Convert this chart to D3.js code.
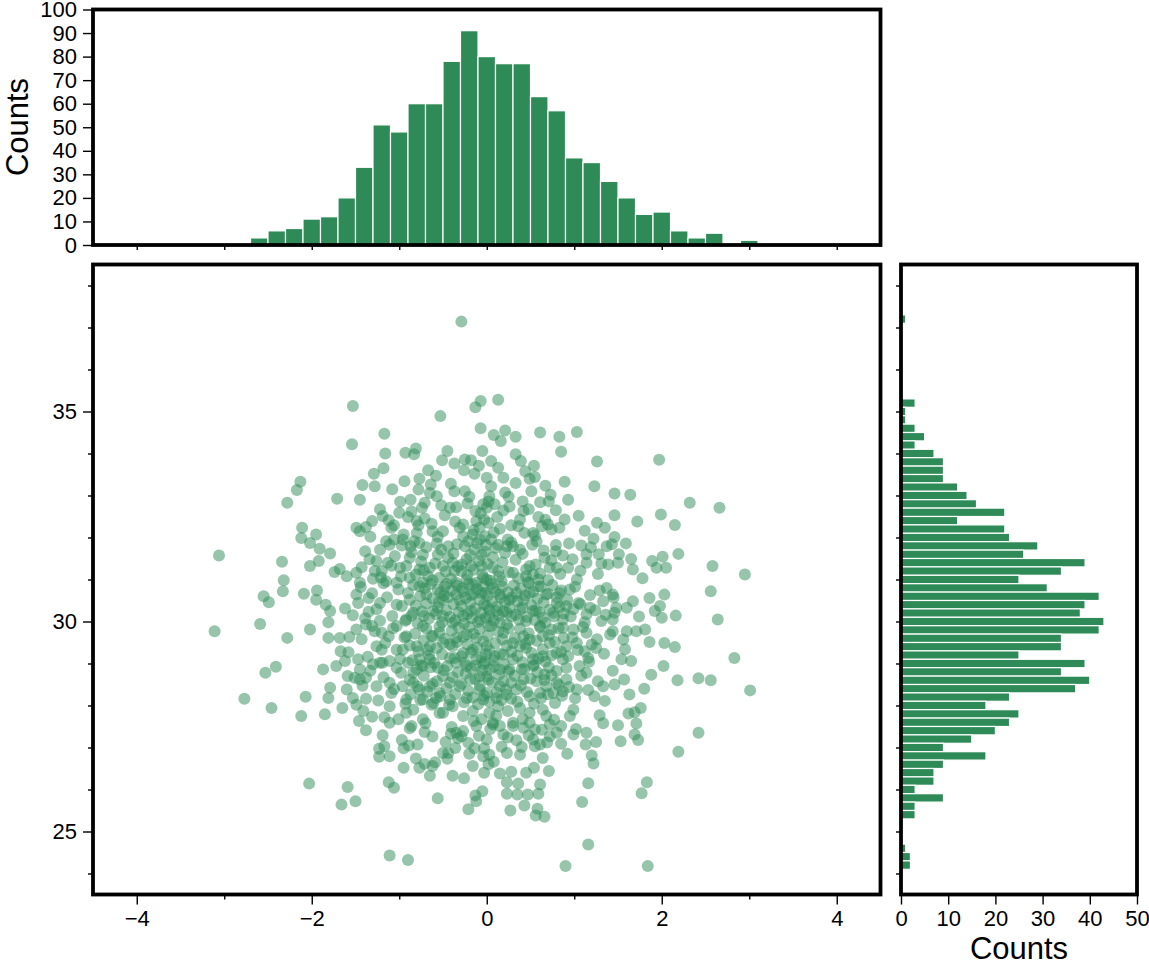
<!DOCTYPE html>
<html><head><meta charset="utf-8">
<script src="https://cdn.jsdelivr.net/npm/d3@7"></script>
<style>
body{margin:0;background:#fff}
svg{display:block}
text{font-family:"Liberation Sans",Arial,Helvetica,sans-serif;fill:#000}
</style>
</head><body>
<svg id="chart" width="1149" height="966"></svg>
<script>
// ---------- data ----------
const xBinCenters = [-2.6,-2.4,-2.2,-2.0,-1.8,-1.6,-1.4,-1.2,-1.0,-0.8,-0.6,-0.4,-0.2,0.0,0.2,0.4,0.6,0.8,1.0,1.2,1.4,1.6,1.8,2.0,2.2,2.4,2.6,2.8,3.0];
const xCounts = [3,6,7,11,12,20,33,51,48,60,60,78,91,80,77,77,63,57,37,35,27,20,13,14,6,3,5,0,2];

const yBinCenters = [37.2,35.2,35.0,34.8,34.6,34.4,34.2,34.0,33.8,33.6,33.4,33.2,33.0,32.8,32.6,32.4,32.2,32.0,31.8,31.6,31.4,31.2,
  31.0,30.8,30.6,30.4,30.2,30.0,29.8,29.6,29.4,29.2,29.0,28.8,28.6,28.4,28.2,28.0,27.8,27.6,27.4,27.2,27.0,26.8,26.6,26.4,26.2,26.0,25.8,25.6,25.4,
  24.6,24.4,24.2];
const yCounts = [1,3,1,1,3,5,3,7,9,9,9,12,14,16,22,12,22,23,29,26,39,34,
  25,31,42,39,38,43,42,34,34,25,39,34,40,37,23,18,25,23,20,15,9,18,9,7,7,3,9,3,3,
  1,2,2];

const topCountTicks = [0,10,20,30,40,50,60,70,80,90,100];
const rightCountTicks = [0,10,20,30,40,50];
const xMajorTicks = [-4,-2,0,2,4];
const xMinorTicks = [-3,-1,1,3];
const yMajorTicks = [25,30,35];
const yMinorTicks = [24,26,27,28,29,31,32,33,34,36,37,38];
const xAllTicks = [-4,-3,-2,-1,0,1,2,3,4];
const yAllTicks = [24,25,26,27,28,29,30,31,32,33,34,35,36,37,38];

// scatter points (outer and mid regions)
const scatterPoints = [
[-0.29,37.14],[-1.53,35.13],[-0.07,35.25],[-0.13,35.10],[-0.53,34.89],[-0.07,34.60],[-1.17,34.47],[-1.54,34.22],
[0.13,35.28],[0.08,34.44],[0.21,34.55],[0.16,34.30],[0.33,34.40],[0.61,34.50],[0.83,34.40],[1.03,34.51],
[-1.16,34.00],[-0.93,34.02],[-0.83,33.98],[-0.81,34.12],[-0.45,34.06],[-0.05,34.06],[-0.51,33.84],[-0.37,33.76],[-0.25,33.86],[-0.18,33.84],[-0.26,33.60],[-0.14,33.52],[-0.67,33.60],[-0.77,33.40],[-0.64,33.26],[-0.65,33.06],[-0.57,32.98],[-0.71,32.83],[-0.74,32.71],[-0.87,32.90],[-1.18,33.65],[-1.29,33.52],[-1.28,33.22],[-1.42,33.25],[-0.94,33.34],[-1.71,32.92],[-1.45,32.90],[-2.13,33.33],[-2.17,33.13],[-2.28,32.83],[-1.22,32.67],[-1.19,32.51],[-0.99,32.85],[-1.00,32.59],[-0.90,32.49],[-0.80,32.39],[-0.78,32.29],[-1.06,32.29],[-1.31,32.39],[-1.38,32.25],[-1.49,32.23],[-1.45,32.15],[-1.33,32.02],[-0.37,33.10],[-0.25,33.10],[-0.20,32.97],[-0.42,32.71],[-0.35,32.72],[-0.13,32.63],[-0.03,32.43],[-0.12,32.39],[-2.11,32.23],[-2.12,31.99],[-1.95,32.07],[-2.02,31.87],[-1.91,31.73],[-1.79,31.62],[-1.92,31.44],[-2.02,31.32],[-3.06,31.57],[-2.34,31.42],[-2.32,30.98],[-1.68,31.25],[-1.60,31.08],[-1.49,31.16],[-1.43,31.29],[-1.45,30.92],[-1.15,31.91],[-1.11,31.83],[-1.06,31.95],[-1.22,31.71],[-1.26,31.44],[-1.13,31.40],[-1.20,31.20],[-0.99,31.28],[-0.98,31.08],[-0.87,31.79],[-0.77,31.87],[-0.73,31.59],[-0.62,32.15],[-0.56,32.02],[-0.50,32.15],[-0.44,31.79],[-0.31,32.23],[-0.27,32.03],[-0.21,31.91],[-0.16,32.07],[-0.08,32.23],[-0.14,31.71],[-0.06,31.59],[-0.23,31.48],[-0.18,31.32],[-0.06,31.32],[-0.39,31.40],[-0.37,31.20],[-0.56,31.59],[-0.65,31.28],[-0.88,31.52],[-0.92,31.32],[-0.77,31.24],[-0.67,31.08],[-0.54,31.04],[-0.46,30.90],[-0.73,30.92],[-0.88,31.04],[-1.03,30.92],[-1.15,30.96],[-1.28,31.20],[-0.23,31.00],[-0.12,30.92],[-0.35,30.92],[-1.34,31.48],[-0.08,31.95],[-0.04,31.04],[-0.29,31.20],[-0.50,31.32],[-0.80,32.11],[-0.96,31.95],[-1.09,32.23],[-0.78,33.14],[-0.04,32.79],
[0.85,34.04],[1.26,33.81],[1.97,33.85],[0.33,33.98],[0.39,33.82],[0.54,33.71],[0.05,33.82],[0.13,33.66],[0.00,33.42],[0.19,33.42],[0.33,33.30],[0.49,33.40],[0.55,33.44],[0.89,33.33],[0.05,33.22],[0.51,33.10],[0.25,32.97],[0.02,32.86],[0.09,32.79],[0.41,32.86],[0.42,32.63],[0.19,32.64],[0.73,33.02],[0.71,32.86],[0.79,32.65],[0.93,32.90],[0.89,32.43],[0.59,32.49],[0.70,32.31],[0.74,32.19],[1.23,33.22],[1.46,33.05],[1.64,33.02],[2.32,32.83],[2.66,32.71],[1.99,32.55],[1.46,32.53],[2.15,32.30],[1.26,32.35],[1.35,32.23],[1.22,31.97],[1.46,32.01],[1.59,31.86],[1.37,31.79],[1.08,31.81],[1.14,31.60],[1.28,31.60],[1.31,31.38],[1.51,31.60],[1.65,31.49],[1.50,31.40],[1.39,31.36],[1.14,31.40],[0.94,31.86],[0.79,31.67],[0.80,31.28],[0.93,31.28],[0.72,31.28],[0.66,31.52],[0.57,31.91],[0.53,32.11],[0.43,32.11],[0.28,32.29],[0.15,32.21],[0.24,31.95],[0.30,31.79],[0.38,31.71],[0.23,31.79],[0.13,31.83],[0.05,31.95],[-0.02,32.03],[2.19,31.61],[2.01,31.54],[1.89,31.44],[1.94,31.28],[2.05,31.28],[1.67,31.24],[2.58,31.32],[2.95,31.12],[1.03,31.00],[0.49,31.32],[0.53,31.12],[0.59,31.00],[0.45,31.08],[0.30,31.16],[0.13,31.20],[0.07,31.28],[0.00,31.00],[0.17,30.96],[0.02,32.35],[0.00,32.71],[0.03,32.98],[0.38,32.43],[0.63,32.27],
[-2.33,30.72],[-2.55,30.60],[-2.49,30.46],[-2.09,30.66],[-1.94,30.74],[-1.95,30.52],[-1.84,30.40],[-1.79,30.25],[-1.81,29.98],[-1.53,30.15],[-1.49,30.64],[-1.47,30.44],[-1.35,30.56],[-1.35,30.23],[-1.22,30.44],[-1.03,30.40],[-0.90,30.68],[-0.77,30.84],[-0.69,30.64],[-0.56,30.76],[-0.50,30.52],[-0.35,30.64],[-0.27,30.72],[-0.16,30.88],[-0.06,30.68],[-2.59,29.94],[-3.11,29.77],[-2.28,29.61],[-2.02,29.81],[-1.81,29.61],[-1.68,29.61],[-1.57,29.63],[-1.49,29.81],[-1.38,29.93],[-1.31,29.89],[-1.20,29.73],[-1.12,29.65],[-1.03,29.89],[-0.92,30.05],[-0.84,30.21],[-0.73,29.89],[-0.61,30.25],[-0.50,30.13],[-0.39,29.97],[-0.27,30.13],[-0.18,30.25],[-0.08,30.05],[-1.67,29.29],[-1.26,29.41],[-1.20,29.33],[-1.03,29.33],[-0.96,29.33],[-0.80,29.41],[-0.65,29.41],[-0.50,29.49],[-0.35,29.61],[-0.23,29.69],[-0.12,29.61],[-1.72,28.94],[-1.62,29.06],[-1.59,28.70],[-1.47,29.10],[-1.45,28.86],[-1.51,28.66],[-1.38,28.66],[-1.30,28.98],[-1.19,29.02],[-1.11,29.06],[-1.03,28.90],[-0.90,29.02],[-0.84,28.78],[-0.73,28.94],[-0.65,29.10],[-0.56,28.90],[-0.42,29.13],[-0.35,29.02],[-0.23,28.94],[-0.12,29.10],[-0.04,28.98],[-2.53,28.78],[-2.41,28.92],[-1.87,28.86],[-1.79,28.42],[-1.81,28.18],[-1.60,28.38],[-1.53,28.18],[-1.38,28.16],[-1.45,28.62],[-1.26,28.46],[-1.11,28.54],[-1.09,28.30],[-0.96,28.46],[-0.88,28.62],[-0.77,28.38],[-0.65,28.46],[-0.54,28.30],[-0.42,28.54],[-0.31,28.46],[-0.19,28.62],[-0.08,28.38],[-2.77,28.16],[-2.46,27.94],[-2.07,28.21],[-2.12,27.75],[-1.85,27.79],[-1.65,27.94],[-1.49,28.02],[-1.41,27.87],[-1.31,27.73],[-1.11,27.59],[-1.01,27.67],[-0.92,27.83],[-0.84,27.90],[-0.73,27.67],[-0.63,28.02],[-0.50,27.83],[-0.39,27.98],[-0.27,27.75],[-0.16,27.87],[-0.06,27.67],[-0.04,28.14],[-0.23,28.18],[-0.42,28.14],[-0.58,28.18],[-0.73,28.14],[-0.92,28.14],[-1.11,27.98],[-0.54,29.73],[-0.39,29.41],[-0.16,29.33],[-0.27,29.25],[-0.61,29.65],[-0.92,29.65],[-0.77,29.10],[-0.08,28.70],[-0.50,28.70],[-1.46,27.63],
[1.37,30.80],[1.44,30.64],[1.86,30.56],[2.03,30.64],[1.98,30.37],[1.92,30.25],[2.00,30.09],[2.16,30.14],[2.56,30.72],[2.64,30.05],[-0.02,30.68],[0.07,30.80],[0.15,30.64],[0.34,30.68],[0.49,30.68],[0.59,30.84],[0.68,30.64],[0.83,30.68],[0.95,30.76],[1.05,30.44],[1.18,30.33],[1.33,30.48],[1.48,30.33],[1.60,30.33],[1.46,30.21],[1.31,30.01],[1.44,30.05],[0.00,30.37],[0.11,30.25],[0.23,30.21],[0.38,30.29],[0.53,30.25],[0.64,30.09],[0.76,30.21],[0.87,30.05],[0.99,30.29],[1.14,30.17],[0.02,29.89],[0.19,29.73],[0.30,29.49],[0.42,29.65],[0.49,29.57],[0.64,29.65],[0.74,29.81],[0.87,29.85],[0.99,29.81],[1.14,29.73],[1.20,29.45],[1.44,29.77],[1.60,29.77],[1.56,29.57],[1.81,29.81],[1.86,29.51],[2.03,29.49],[2.15,29.39],[0.00,29.41],[0.09,29.17],[0.19,29.21],[0.30,29.10],[0.45,29.37],[0.53,29.10],[0.64,29.17],[0.80,29.25],[0.87,29.10],[1.03,29.49],[1.12,29.29],[1.25,29.37],[1.16,29.13],[1.54,29.10],[1.65,29.06],[2.02,28.94],[2.83,29.13],[2.18,28.60],[2.42,28.65],[2.56,28.60],[3.01,28.36],[0.03,28.86],[0.15,28.86],[0.26,28.86],[0.40,28.86],[0.53,28.94],[0.66,28.74],[0.80,28.82],[0.91,28.90],[1.06,28.94],[1.14,28.78],[0.91,28.62],[0.80,28.54],[0.68,28.46],[0.57,28.58],[0.42,28.62],[0.28,28.54],[0.15,28.46],[0.02,28.62],[1.57,28.62],[1.46,28.50],[1.33,28.46],[1.23,28.22],[1.03,28.38],[0.87,28.34],[0.76,28.30],[0.61,28.30],[0.49,28.22],[0.34,28.38],[0.23,28.26],[0.11,28.18],[0.00,28.30],[1.80,28.40],[1.76,27.94],[1.69,27.84],[1.29,27.77],[0.99,27.90],[0.95,27.75],[0.68,27.75],[0.64,27.90],[0.49,27.83],[0.38,27.94],[0.24,27.87],[0.13,27.98],[0.03,27.83],[0.07,27.59],[0.30,27.59],[0.49,27.59],[0.72,27.55],[1.50,27.53],[1.71,27.57],[0.26,30.52],[0.42,30.52],[0.80,30.44],[0.91,30.37],[0.03,30.13],[0.45,30.01],[0.61,29.89],[0.38,29.41],[0.91,29.41],[0.72,29.49],[0.15,29.97],
[-1.19,27.29],[-1.23,26.97],[-1.17,27.03],[-1.11,26.79],[-1.23,26.78],[-0.95,26.98],[-0.89,27.05],[-0.95,26.52],[-0.81,26.74],[-0.77,26.52],[-0.65,26.33],[-0.62,26.56],[-0.59,26.65],[-0.50,26.87],[-0.44,26.87],[-0.45,26.73],[-0.36,26.99],[-0.39,26.33],[-0.20,26.85],[-0.14,26.98],[-0.16,26.56],[-0.04,26.79],[-0.03,26.40],[-0.13,25.86],[-0.05,25.96],[-0.12,25.72],[-0.86,27.51],[-0.71,27.37],[-0.41,27.33],[-0.35,27.35],[-0.29,27.27],[-0.12,27.51],[-2.03,26.14],[-1.59,26.06],[-1.50,25.72],[-1.66,25.64],[-1.12,26.17],[-1.06,26.04],[-0.56,25.79],[-1.11,24.43],[-0.90,24.32],
[2.42,27.35],[2.19,26.90],[1.69,27.31],[1.73,27.18],[1.53,27.15],[1.25,27.13],[1.14,27.35],[0.99,27.31],[0.85,27.51],[0.92,26.85],[1.20,26.81],[1.22,26.62],[1.16,26.15],[1.09,25.70],[1.83,26.17],[1.77,25.91],[1.16,24.69],[0.90,24.18],[1.84,24.18],[0.07,27.55],[0.19,27.31],[0.00,27.19],[0.23,26.87],[0.38,26.83],[0.40,27.01],[0.03,26.83],[0.02,26.60],[0.15,26.38],[0.28,26.42],[0.23,26.17],[0.45,26.40],[0.54,26.52],[0.61,26.12],[0.59,25.90],[0.47,25.88],[0.35,25.88],[0.23,25.90],[0.27,25.50],[0.56,25.38],[0.58,25.54],[0.66,25.35],[0.64,26.75],[0.61,27.07],[0.53,27.19],[0.72,27.27],[0.80,27.35],[0.55,27.43],[0.42,27.47],[0.30,27.51],[0.15,27.51]
];

// estimated positions inside the overlapping dense core
const scatterCorePoints = [
[-1.08,33.15],[-0.58,33.47],[-0.41,33.28],[-0.09,33.71],[0.21,33.07],[0.44,33.58],[0.67,33.23],
[-1.12,32.41],[-0.95,32.07],[-0.86,32.62],[-0.71,32.45],[-0.52,32.77],[-0.63,32.33],[-0.48,32.53],[-0.36,32.38],[-0.22,32.81],[-0.27,32.31],[-0.07,32.58],[0.08,32.12],[0.12,32.49],[0.26,32.74],[-0.15,32.18],[0.36,32.27],[0.48,32.67],[0.55,32.05],[0.67,32.42],[0.83,32.23],[0.61,32.84],[1.05,32.52],[1.12,32.16],[1.72,32.38],
[-1.74,31.18],[-1.39,31.67],[-1.21,31.05],[-1.05,31.56],[-0.97,31.81],[-1.30,31.02],[-1.09,31.33],
[-0.86,31.65],[-0.81,31.12],[-0.75,31.43],[-0.69,31.77],[-0.62,30.98],[-0.59,31.38],[-0.52,31.71],[-0.47,31.19],[-0.44,31.52],[-0.41,31.02],[-0.34,31.84],[-0.33,31.31],[-0.72,31.22],[-0.83,31.91],[-0.57,31.86],[-0.38,31.62],
[-0.28,31.36],[-0.25,31.79],[-0.22,31.11],[-0.19,31.58],[-0.15,31.23],[-0.11,31.86],[-0.09,31.44],[-0.05,31.12],[-0.02,31.66],[0.01,31.37],[0.04,30.97],[0.07,31.53],[0.10,31.75],[0.14,31.07],[0.18,31.41],[0.21,31.63],[0.25,31.18],[0.28,31.88],[-0.01,31.82],
[0.33,31.47],[0.36,31.03],[0.41,31.61],[0.45,31.24],[0.52,31.83],[0.56,31.36],[0.61,31.14],[0.65,31.69],[0.70,30.99],[0.74,31.46],[0.79,31.82],[0.84,31.13],[0.87,31.57],[0.47,30.94],
[0.98,31.48],[1.07,31.21],[1.19,31.77],[1.27,31.13],[1.43,31.84],[1.78,31.03],
[-1.62,30.31],[-1.44,30.82],[-1.39,30.08],[-1.31,30.67],[-1.26,30.29],[-1.18,30.91],[-1.14,30.58],[-1.08,30.13],[-1.01,30.76],[-0.97,30.37],[-0.93,30.02],[-1.22,30.02],
[-0.88,30.52],[-0.86,30.14],[-0.84,30.87],[-0.81,30.38],[-0.79,29.96],[-0.76,30.61],[-0.74,30.24],[-0.71,30.79],[-0.69,30.43],[-0.66,30.07],[-0.64,30.89],[-0.62,30.55],[-0.58,30.18],[-0.56,30.34],[-0.53,30.69],[-0.51,29.98],[-0.48,30.83],[-0.46,30.27],[-0.44,30.58],[-0.42,30.11],[-0.40,30.74],[-0.38,30.41],[-0.36,30.03],[-0.34,30.86],[-0.32,30.22],[-0.31,30.51],[-0.55,30.46],[-0.72,30.13],[-0.49,30.62],
[-0.29,30.37],[-0.28,30.79],[-0.26,29.95],[-0.24,30.56],[-0.22,30.18],[-0.21,30.89],[-0.19,30.44],[-0.17,30.08],[-0.15,30.66],[-0.13,30.31],[-0.11,30.77],[-0.10,29.99],[-0.08,30.52],[-0.06,30.21],[-0.04,30.84],[-0.03,30.41],[-0.01,30.09],[0.01,30.61],[0.03,30.28],[0.05,30.89],[0.06,30.47],[0.08,30.02],[0.10,30.71],[0.12,30.36],[0.14,30.14],[0.16,30.57],[0.18,30.83],[0.19,30.24],[0.21,30.46],[0.23,29.93],[0.24,30.69],[0.26,30.33],[0.28,30.12],[0.29,30.58],[-0.18,30.63],
[0.31,30.86],[0.33,30.16],[0.35,30.49],[0.37,30.04],[0.39,30.78],[0.41,30.33],[0.44,30.62],[0.46,30.11],[0.48,30.91],[0.51,30.39],[0.53,30.71],[0.55,30.03],[0.58,30.54],[0.60,30.22],[0.62,30.83],[0.65,30.45],[0.67,29.97],[0.70,30.66],[0.72,30.28],[0.75,30.87],[0.77,30.12],[0.80,30.57],[0.83,30.34],[0.85,30.74],[0.88,30.19],[0.56,30.27],
[0.92,30.52],[0.96,30.12],[1.01,30.83],[1.07,30.41],[1.12,29.98],[1.18,30.63],[1.24,30.27],[1.29,30.74],[1.36,30.16],[1.45,30.57],[1.67,30.48],[1.74,30.12],
[-1.58,29.27],[-1.43,29.58],[-1.36,29.16],[-1.28,29.77],[-1.22,29.02],[-1.16,29.49],[-1.07,29.84],[-0.99,29.11],[-0.94,29.62],
[-0.88,29.43],[-0.85,29.08],[-0.82,29.71],[-0.78,29.29],[-0.75,28.96],[-0.72,29.55],[-0.69,29.83],[-0.66,29.19],[-0.63,29.66],[-0.60,29.01],[-0.57,29.37],[-0.54,29.88],[-0.51,29.22],[-0.48,29.59],[-0.45,28.94],[-0.42,29.46],[-0.40,29.78],[-0.37,29.13],[-0.34,29.51],[-0.32,29.86],[-0.68,29.32],
[-0.29,29.17],[-0.27,29.63],[-0.25,29.02],[-0.22,29.45],[-0.20,29.87],[-0.18,29.26],[-0.15,29.71],[-0.13,28.95],[-0.11,29.38],[-0.08,29.82],[-0.06,29.14],[-0.04,29.53],[-0.02,29.04],[0.01,29.66],[0.03,29.31],[0.05,29.89],[0.08,29.07],[0.10,29.49],[0.13,29.76],[0.15,29.23],[0.18,29.58],[0.20,28.98],[0.23,29.42],[0.25,29.84],[0.28,29.28],[-0.01,29.22],
[0.32,29.61],[0.35,29.18],[0.38,29.83],[0.41,29.03],[0.44,29.47],[0.48,29.72],[0.51,29.25],[0.54,28.97],[0.57,29.54],[0.61,29.86],[0.64,29.34],[0.67,29.05],[0.71,29.68],[0.74,29.19],[0.78,29.51],[0.82,29.84],[0.85,29.28],[0.88,29.61],[0.59,29.12],
[0.93,29.17],[0.98,29.62],[1.04,29.32],[1.10,29.87],[1.17,29.04],[1.26,29.58],[1.34,29.23],[1.41,29.69],[1.58,29.34],[1.71,29.77],
[-1.42,28.47],[-1.33,28.83],[-1.24,28.12],[-1.18,28.67],[-1.06,28.39],[-0.98,28.78],[-0.93,28.04],
[-0.87,28.27],[-0.84,28.54],[-0.80,28.86],[-0.76,28.13],[-0.72,28.71],[-0.68,28.33],[-0.64,28.91],[-0.61,28.06],[-0.57,28.58],[-0.53,28.22],[-0.49,28.84],[-0.46,28.41],[-0.43,28.02],[-0.39,28.67],[-0.36,28.27],[-0.33,28.79],[-0.62,28.52],[-0.79,28.45],
[-0.29,28.52],[-0.26,28.08],[-0.24,28.76],[-0.21,28.35],[-0.18,28.88],[-0.16,28.19],[-0.13,28.63],[-0.10,28.03],[-0.08,28.47],[-0.05,28.84],[-0.03,28.24],[0.00,28.69],[0.03,28.09],[0.06,28.55],[0.08,28.92],[0.11,28.31],[0.14,28.73],[0.17,28.13],[0.19,28.58],[0.22,28.38],[0.25,28.81],[0.28,28.16],
[0.32,28.71],[0.35,28.09],[0.39,28.48],[0.43,28.87],[0.46,28.32],[0.50,28.64],[0.54,28.04],[0.58,28.79],[0.62,28.17],[0.66,28.61],[0.70,28.27],[0.74,28.72],[0.78,28.06],[0.82,28.49],[0.86,28.23],[0.71,28.91],
[0.94,28.44],[1.01,28.17],[1.08,28.71],[1.16,28.37],[1.27,28.58],[1.35,28.11],[1.44,28.83],[1.63,28.26],[1.88,28.73],
[-1.38,27.41],[-1.17,27.72],[-0.97,27.18],[-0.88,27.46],[-0.79,27.07],[-0.70,27.58],[-0.62,27.26],[-0.54,27.82],[-0.47,27.13],[-0.40,27.49],[-0.33,27.22],
[-0.27,27.39],[-0.21,27.11],[-0.15,27.63],[-0.09,27.28],[-0.03,26.98],[0.04,27.44],[0.11,27.76],[0.17,27.02],[0.24,27.24],
[0.34,27.17],[0.41,27.68],[0.48,27.29],[0.55,27.03],[0.63,27.42],[0.69,27.12],[0.77,27.66],[0.85,27.09],[1.02,27.44],[1.13,27.07],[1.33,27.58],[1.62,27.81],
[-0.71,26.61],[-0.26,26.27],[0.08,26.66],[0.36,26.14],[0.71,26.44],[-0.21,25.53],[0.43,25.62]
];

// ---------- layout ----------
const svg = d3.select("#chart");
const green = "#2E8B57";
const FONT = 22;

const x = d3.scaleLinear().domain([-4.5, 4.5]).range([93, 880.5]);
const yMain = d3.scaleLinear().domain([23.5, 38.5]).range([894.5, 264.5]);
const yTop = d3.scaleLinear().domain([0, 100]).range([245, 9.5]);
const xRight = d3.scaleLinear().domain([0, 50]).range([901, 1137]);

function styleAxis(g){
  g.select(".domain").remove();
  g.selectAll(".tick line").attr("stroke","#000").attr("stroke-width",1.4);
  g.selectAll(".tick text").attr("font-size",FONT).attr("fill","#000")
    .style("font-family",'"Liberation Sans",Arial,Helvetica,sans-serif');
}
const fmt = d => (d < 0 ? "\u2212" + Math.abs(d) : String(d));

// ---------- top histogram ----------
svg.append("g").selectAll("rect").data(xBinCenters).join("rect")
  .attr("x", d => x(d - 0.1))
  .attr("width", d => x(d + 0.1) - x(d - 0.1))
  .attr("y", (d,i) => yTop(xCounts[i]))
  .attr("height", (d,i) => yTop(0) - yTop(xCounts[i]))
  .attr("fill", green).attr("stroke", "#fff").attr("stroke-width", 1.2);

svg.append("g").attr("transform","translate(93,0)")
  .call(d3.axisLeft(yTop).tickValues(topCountTicks).tickSize(10).tickPadding(6).tickFormat(fmt)).call(styleAxis);
svg.append("g").attr("transform","translate(0,245)")
  .call(d3.axisBottom(x).tickValues(xAllTicks).tickSize(5).tickFormat("")).call(styleAxis);
svg.append("text").attr("transform","translate(28,127) rotate(-90)")
  .attr("text-anchor","middle").attr("font-size",31).text("Counts");

// ---------- right histogram ----------
svg.append("g").selectAll("rect").data(yBinCenters).join("rect")
  .attr("x", xRight(0))
  .attr("width", (d,i) => xRight(yCounts[i]) - xRight(0))
  .attr("y", d => yMain(d + 0.1))
  .attr("height", d => yMain(d - 0.1) - yMain(d + 0.1))
  .attr("fill", green).attr("stroke", "#fff").attr("stroke-width", 1.2);

svg.append("g").attr("transform","translate(901,0)")
  .call(d3.axisLeft(yMain).tickValues(yAllTicks).tickSize(5).tickFormat("")).call(styleAxis);
svg.append("g").attr("transform","translate(0,894.5)")
  .call(d3.axisBottom(xRight).tickValues(rightCountTicks).tickSize(10).tickPadding(6).tickFormat(fmt)).call(styleAxis);
svg.append("text").attr("x",1019).attr("y",959)
  .attr("text-anchor","middle").attr("font-size",31).text("Counts");

// ---------- scatter ----------
const allPoints = scatterPoints.concat(scatterCorePoints);
svg.append("g").selectAll("circle").data(allPoints).join("circle")
  .attr("cx", d => x(d[0])).attr("cy", d => yMain(d[1]))
  .attr("r", 6).attr("fill", green).attr("fill-opacity", 0.5);

svg.append("g").attr("transform","translate(0,894.5)")
  .call(d3.axisBottom(x).tickValues(xMajorTicks).tickSize(10).tickPadding(6).tickFormat(fmt)).call(styleAxis);
svg.append("g").attr("transform","translate(0,894.5)")
  .call(d3.axisBottom(x).tickValues(xMinorTicks).tickSize(5).tickFormat("")).call(styleAxis);
svg.append("g").attr("transform","translate(93,0)")
  .call(d3.axisLeft(yMain).tickValues(yMajorTicks).tickSize(10).tickPadding(6).tickFormat(fmt)).call(styleAxis);
svg.append("g").attr("transform","translate(93,0)")
  .call(d3.axisLeft(yMain).tickValues(yMinorTicks).tickSize(5).tickFormat("")).call(styleAxis);

// ---------- frames ----------
const frames = [
  [x.range()[0], yTop(100), x.range()[1], yTop(0)],
  [x.range()[0], yMain(38.5), x.range()[1], yMain(23.5)],
  [xRight(0), yMain(38.5), xRight(50), yMain(23.5)]
];
svg.append("g").selectAll("rect").data(frames).join("rect")
  .attr("x", d => d[0]).attr("y", d => d[1])
  .attr("width", d => d[2] - d[0]).attr("height", d => d[3] - d[1])
  .attr("fill","none").attr("stroke","#000").attr("stroke-width",3.8);
</script>
</body></html>
